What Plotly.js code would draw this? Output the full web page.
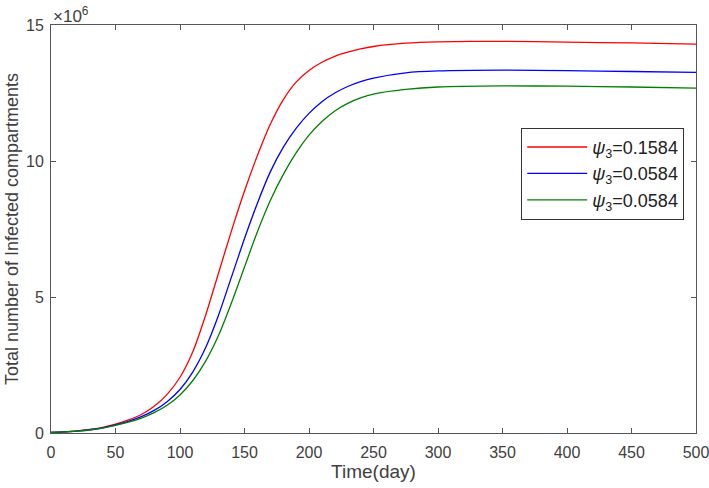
<!DOCTYPE html>
<html>
<head>
<meta charset="utf-8">
<script src="https://cdn.plot.ly/plotly-3.0.1.min.js"></script>
<style>html,body{margin:0;padding:0;background:#fff}#chart{width:709px;height:488px}</style>
</head>
<body>
<div id="chart"></div>
<script>
// Time (days)
const days = [0,10,20,30,40,50,60,70,80,90,100,110,120,130,140,150,160,170,180,190,200,210,220,230,240,250,275,300,350,400,450,500];
// Values in units of 10^6
const red   = [0.02,0.04,0.08,0.13,0.21,0.33,0.48,0.68,0.98,1.42,2.05,3.00,4.35,5.90,7.45,8.90,10.20,11.35,12.25,12.90,13.33,13.63,13.85,14.00,14.12,14.21,14.33,14.38,14.40,14.37,14.34,14.30];
const blue  = [0.02,0.04,0.07,0.12,0.19,0.30,0.43,0.60,0.83,1.15,1.60,2.25,3.15,4.35,5.75,7.15,8.45,9.60,10.50,11.20,11.75,12.18,12.50,12.74,12.92,13.05,13.24,13.31,13.34,13.32,13.29,13.26];
const green = [0.02,0.04,0.07,0.11,0.18,0.28,0.40,0.55,0.75,1.02,1.40,1.93,2.65,3.60,4.80,6.10,7.40,8.55,9.50,10.30,10.95,11.45,11.84,12.12,12.32,12.46,12.63,12.72,12.76,12.75,12.72,12.68];
const seriesNames = ['<i>ψ</i><sub>3</sub>=0.1584','<i>ψ</i><sub>3</sub>=0.0584','<i>ψ</i><sub>3</sub>=0.0584'];
const xTicks = [0,50,100,150,200,250,300,350,400,450,500];
const yTicks = [0,5,10,15];

const colors = ['#ff0000','#0000ff','#008000'];
const traces = [red, blue, green].map((ys, i) => ({
  x: days, y: ys, type: 'scatter', mode: 'lines',
  name: seriesNames[i],
  line: {color: colors[i], width: 1.3, shape: 'spline', smoothing: 0.6}
}));

const FONT = 'Liberation Sans, Arial, sans-serif';
const axisCommon = {
  showgrid: false, zeroline: false, showline: true, mirror: 'ticks',
  linecolor: '#555', linewidth: 1, ticks: 'inside', ticklen: 5, tickcolor: '#555',
  tickfont: {family: FONT, size: 16, color: '#404040'},
  ticklabeloverflow: 'allow',
  automargin: false
};

const layout = {
  width: 709, height: 488,
  margin: {l: 51, r: 13, t: 25, b: 55},
  paper_bgcolor: '#fff', plot_bgcolor: '#fff',
  showlegend: true,
  xaxis: Object.assign({}, axisCommon, {
    range: [0, 500], tickvals: xTicks, ticktext: xTicks.map(String),
    ticklabelstandoff: 5,
    title: {text: 'Time(day)', font: {family: FONT, size: 19, color: '#404040'}, standoff: 0}
  }),
  yaxis: Object.assign({}, axisCommon, {
    range: [0, 15], tickvals: yTicks, ticktext: yTicks.map(String),
    ticklabelstandoff: 3,
    title: {text: 'Total number of Infected compartments', font: {family: FONT, size: 18, color: '#404040'}, standoff: 2}
  }),
  legend: {
    x: 0.729, y: 0.748, xanchor: 'left', yanchor: 'top',
    bgcolor: '#fff', bordercolor: '#333', borderwidth: 1,
    font: {family: FONT, size: 18, color: '#222'},
    itemwidth: 60
  },
  annotations: [{
    xref: 'paper', yref: 'paper', x: 0.0, y: 1.0, xanchor: 'left', yanchor: 'bottom',
    text: '×10<sup>6</sup>', showarrow: false, xshift: 0, yshift: -3,
    font: {family: FONT, size: 17, color: '#404040'}
  }]
};

Plotly.newPlot('chart', traces, layout, {displayModeBar: false, staticPlot: true});
</script>
</body>
</html>
